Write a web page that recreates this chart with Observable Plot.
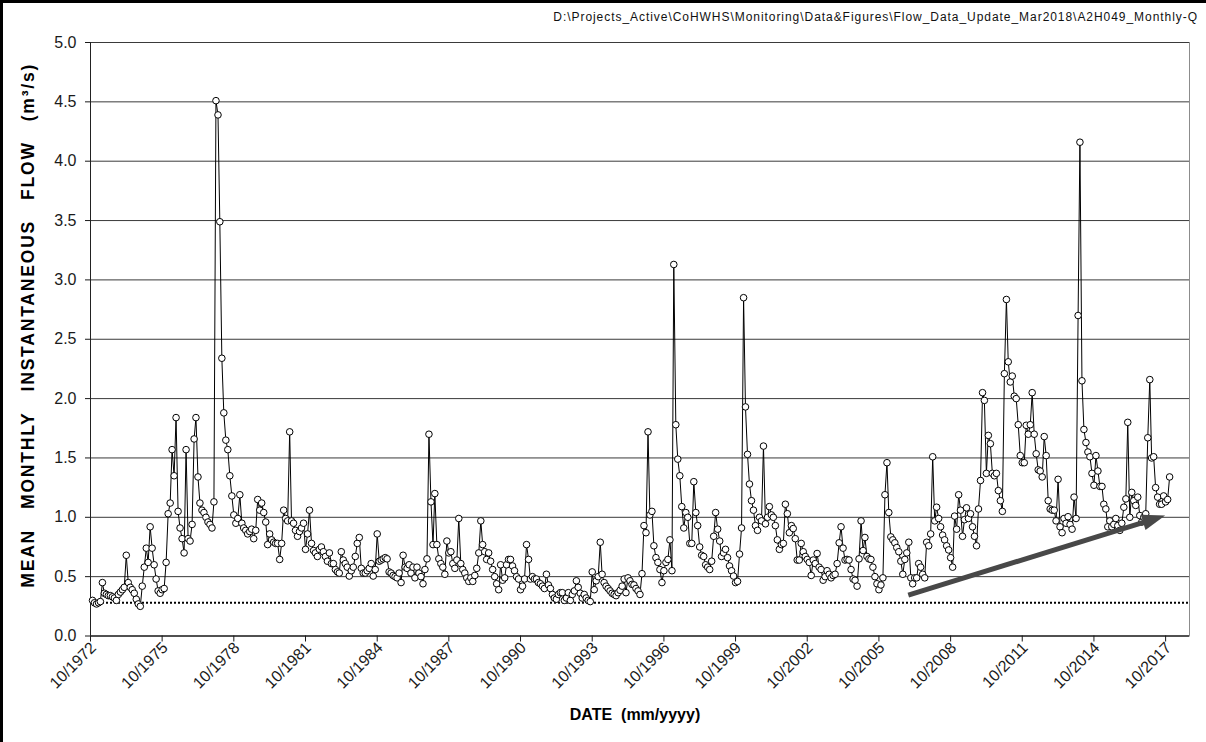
<!DOCTYPE html>
<html>
<head>
<meta charset="utf-8">
<script src="https://cdn.jsdelivr.net/npm/d3@7"></script>
<script src="https://cdn.jsdelivr.net/npm/@observablehq/plot@0.6"></script>
<style>
  html, body { margin: 0; padding: 0; background: #fff; }
  #chart { position: relative; width: 1206px; height: 742px; overflow: hidden;
           font-family: Arial, "Liberation Sans", sans-serif; }
  #chart::before { content: ""; position: absolute; left: 0; top: 0; right: -4px; bottom: -4px;
           border-left: 3px solid #000; border-top: 3px solid #000; pointer-events: none; }
  #src { position: absolute; right: 8px; top: 10px; font-size: 12px; letter-spacing: 0.95px; color: #111; white-space: nowrap; }
  #chart svg { position: absolute; left: 0; top: 0; }
</style>
</head>
<body>
<div id="chart">
  <div id="src">D:\Projects_Active\CoHWHS\Monitoring\Data&amp;Figures\Flow_Data_Update_Mar2018\A2H049_Monthly-Q</div>
</div>
<script>
// Mean monthly instantaneous flow (m³/s), station A2H049.
// One row per hydrological year (Oct–Sep); the record opens in November 1972.
const flow1970s = [
  0.30, 0.28, 0.27, 0.28, 0.29, 0.45, 0.36, 0.35, 0.34, 0.34, 0.33,
  0.32, 0.30, 0.35, 0.37, 0.39, 0.41, 0.68, 0.45, 0.41, 0.39, 0.36, 0.31,
  0.27, 0.25, 0.42, 0.58, 0.74, 0.62, 0.92, 0.74, 0.60, 0.48, 0.38, 0.36,
  0.39, 0.40, 0.62, 1.03, 1.12, 1.57, 1.35, 1.84, 1.05, 0.91, 0.82, 0.70,
  1.57, 0.82, 0.80, 0.94, 1.66, 1.84, 1.34, 1.12, 1.06, 1.04, 1.00, 0.96,
  0.94, 0.91, 1.13, 4.51, 4.39, 3.49, 2.34, 1.88, 1.65, 1.57, 1.35, 1.18,
  1.02, 0.95, 0.99, 1.19, 0.95, 0.91, 0.89, 0.86, 0.88, 0.90, 0.82, 0.89,
  1.15, 1.06, 1.12, 1.04, 0.96, 0.77, 0.86, 0.81, 0.79, 0.78, 0.78, 0.645
];
const flow1980s = [
  0.78, 1.06, 0.99, 0.97, 1.72, 0.97, 0.95, 0.89, 0.84, 0.88, 0.91, 0.95,
  0.73, 0.86, 1.06, 0.78, 0.72, 0.70, 0.67, 0.73, 0.75, 0.71, 0.67, 0.63,
  0.70, 0.61, 0.61, 0.56, 0.54, 0.53, 0.71, 0.64, 0.61, 0.58, 0.505, 0.55,
  0.58, 0.67, 0.78, 0.83, 0.57, 0.53, 0.53, 0.55, 0.57, 0.61, 0.505, 0.56,
  0.86, 0.63, 0.64, 0.65, 0.66, 0.65, 0.54, 0.53, 0.51, 0.50, 0.49, 0.53,
  0.45, 0.68, 0.58, 0.57, 0.60, 0.53, 0.58, 0.49, 0.58, 0.53, 0.50, 0.44,
  0.56, 0.65, 1.70, 1.13, 0.77, 1.20, 0.77, 0.65, 0.61, 0.58, 0.52, 0.80,
  0.70, 0.71, 0.61, 0.57, 0.64, 0.99, 0.61, 0.56, 0.53, 0.49, 0.46, 0.49,
  0.46, 0.51, 0.57, 0.70, 0.97, 0.77, 0.71, 0.645, 0.70, 0.63, 0.56, 0.50,
  0.44, 0.39, 0.60, 0.47, 0.49, 0.60, 0.645, 0.645, 0.59, 0.55, 0.50, 0.48
];
const flow1990s = [
  0.39, 0.42, 0.48, 0.77, 0.645, 0.48, 0.50, 0.48, 0.48, 0.45, 0.44, 0.42,
  0.40, 0.52, 0.43, 0.40, 0.35, 0.32, 0.31, 0.35, 0.365, 0.365, 0.30, 0.32,
  0.365, 0.30, 0.35, 0.38, 0.465, 0.41, 0.36, 0.32, 0.35, 0.32, 0.30, 0.29,
  0.54, 0.39, 0.465, 0.50, 0.79, 0.52, 0.45, 0.42, 0.40, 0.38, 0.36, 0.35,
  0.34, 0.365, 0.385, 0.42, 0.48, 0.365, 0.49, 0.465, 0.435, 0.43, 0.40, 0.38,
  0.35, 0.525, 0.93, 0.87, 1.72, 1.02, 1.05, 0.76, 0.66, 0.62, 0.56, 0.45,
  0.55, 0.62, 0.645, 0.81, 0.55, 3.13, 1.78, 1.49, 1.35, 1.09, 0.91, 1.04,
  1.00, 0.78, 0.78, 1.30, 1.04, 0.93, 0.75, 0.68, 0.67, 0.60, 0.58, 0.56,
  0.63, 0.84, 1.04, 0.90, 0.80, 0.67, 0.70, 0.73, 0.66, 0.59, 0.55, 0.505,
  0.45, 0.46, 0.69, 0.91, 2.85, 1.93, 1.53, 1.28, 1.14, 1.06, 0.93, 0.89
];
const flow2000s = [
  1.00, 0.97, 1.60, 0.945, 1.00, 1.09, 1.02, 1.00, 0.93, 0.81, 0.73, 0.77,
  0.78, 1.11, 1.03, 0.87, 0.93, 0.905, 0.82, 0.64, 0.64, 0.78, 0.71, 0.67,
  0.645, 0.62, 0.51, 0.64, 0.61, 0.695, 0.58, 0.56, 0.47, 0.50, 0.55, 0.52,
  0.49, 0.51, 0.52, 0.61, 0.785, 0.92, 0.74, 0.64, 0.645, 0.64, 0.56, 0.48,
  0.47, 0.42, 0.65, 0.97, 0.72, 0.83, 0.67, 0.65, 0.645, 0.58, 0.50, 0.44,
  0.39, 0.43, 0.49, 1.19, 1.46, 1.04, 0.835, 0.81, 0.785, 0.745, 0.71, 0.63,
  0.52, 0.645, 0.70, 0.79, 0.49, 0.44, 0.49, 0.49, 0.61, 0.58, 0.52, 0.49,
  0.79, 0.76, 0.86, 1.51, 0.97, 1.085, 0.99, 0.92, 0.85, 0.81, 0.76, 0.725,
  0.66, 0.58, 1.01, 0.90, 1.19, 1.06, 0.84, 0.98, 1.08, 0.99, 1.03, 0.92,
  0.84, 0.76, 1.07, 1.31, 2.05, 1.985, 1.37, 1.69, 1.62, 1.37, 1.35, 1.37
];
const flow2010s = [
  1.225, 1.14, 1.05, 2.21, 2.835, 2.31, 2.14, 2.19, 2.02, 2.00, 1.78, 1.52,
  1.46, 1.46, 1.775, 1.70, 1.78, 2.05, 1.70, 1.535, 1.40, 1.39, 1.34, 1.68,
  1.52, 1.14, 1.07, 1.06, 1.06, 0.97, 1.32, 0.92, 0.87, 0.99, 0.95, 1.005,
  0.94, 0.90, 1.17, 0.99, 2.70, 4.16, 2.15, 1.74, 1.63, 1.55, 1.51, 1.37,
  1.27, 1.52, 1.39, 1.26, 1.26, 1.11, 1.07, 0.92, 0.97, 0.92, 0.94, 0.99,
  0.93, 0.89, 0.95, 1.085, 1.155, 1.80, 1.00, 1.21, 1.14, 1.10, 1.17, 1.015,
  0.96, 1.00, 1.03, 1.67, 2.16, 1.50, 1.51, 1.25, 1.17, 1.11, 1.11, 1.18,
  1.13, 1.15, 1.34
];

const firstMonth = "11/1972";
const axisStart = "10/1972";
const axisEnd = "10/2018";
const xTickLabels = ["10/1972", "10/1975", "10/1978", "10/1981", "10/1984", "10/1987",
  "10/1990", "10/1993", "10/1996", "10/1999", "10/2002", "10/2005", "10/2008",
  "10/2011", "10/2014", "10/2017"];
const yTicks = [0, 0.5, 1.0, 1.5, 2.0, 2.5, 3.0, 3.5, 4.0, 4.5, 5.0];
const baseFlow = [0.28];
const trendFrom = ["01/2007", 0.34];
const trendTo = ["10/2017", 1.01];
const gap = "\u00A0\u00A0\u00A0";
const yLabel = ["MEAN", "MONTHLY", "INSTANTANEOUS", "FLOW", "(m³/s)"].join(gap);
const xLabel = "DATE\u00A0\u00A0(mm/yyyy)";

const parseMonth = d3.utcParse("%m/%Y");
const start = parseMonth(firstMonth);
const series = [...flow1970s, ...flow1980s, ...flow1990s, ...flow2000s, ...flow2010s]
  .map((flow, i) => ({ date: d3.utcMonth.offset(start, i), flow }));
const xTicks = xTickLabels.map(parseMonth);

const chart = Plot.plot({
  width: 1206,
  height: 742,
  marginLeft: 90,
  marginRight: 17,
  marginTop: 42,
  marginBottom: 106.5,
  style: { fontFamily: "Arial, 'Liberation Sans', sans-serif", color: "#1a1a1a", background: "transparent" },
  x: { type: "utc", domain: [parseMonth(axisStart), parseMonth(axisEnd)] },
  y: { domain: [0, 5] },
  marks: [
    Plot.frame({ stroke: "#8c8c8c" }),
    Plot.gridY(yTicks, { stroke: "#3a3a3a", strokeOpacity: 1, strokeWidth: 1 }),
    Plot.ruleY(baseFlow, { stroke: "#000", strokeWidth: 2, strokeDasharray: "2,2" }),
    Plot.ruleY([0], { stroke: "#222" }),
    Plot.ruleX([parseMonth(axisStart)], { stroke: "#222" }),
    Plot.axisY(yTicks, { tickFormat: d3.format(".1f"), tickSize: 5, tickPadding: 9, fontSize: 16, label: null }),
    // tick marks on their own, then the rotated date labels
    Plot.axisX(xTicks, { tickFormat: () => "", tickSize: 6, label: null }),
    Plot.axisX(xTicks, { tickFormat: d3.utcFormat("%m/%Y"), tickRotate: -45, tickSize: 0, tickPadding: 9, fontSize: 16, dx: 3, label: null }),
    Plot.line(series, { x: "date", y: "flow", stroke: "#000", strokeWidth: 1 }),
    Plot.dot(series, { x: "date", y: "flow", r: 3.3, fill: "#fff", stroke: "#000", strokeWidth: 1 }),
    Plot.text([yLabel], { frameAnchor: "left", textAnchor: "middle", dx: -62, dy: -14, rotate: -90, fontSize: 17.5, fontWeight: "bold", fill: "#000" }),
    Plot.text([xLabel], { frameAnchor: "bottom", dx: -5, dy: 84, fontSize: 16, fontWeight: "bold", fill: "#000" })
  ]
});

// Letter spacing for the vertical axis title.
d3.select(chart).selectAll("text").filter(function () { return this.textContent === yLabel; })
  .style("letter-spacing", "1.8px");

// Trend arrow: shaft plus filled head, placed through the chart's own scales.
const sx = chart.scale("x"), sy = chart.scale("y");
const p1 = [sx.apply(parseMonth(trendFrom[0])), sy.apply(trendFrom[1])];
const p2 = [sx.apply(parseMonth(trendTo[0])), sy.apply(trendTo[1])];
const dx = p2[0] - p1[0], dy = p2[1] - p1[1];
const len = Math.hypot(dx, dy), ux = dx / len, uy = dy / len, nx = -uy, ny = ux;
const headLen = 23, headHalf = 8;
const base = [p2[0] - ux * headLen, p2[1] - uy * headLen];
const g = d3.select(chart).append("g").attr("class", "trend");
g.append("line")
  .attr("x1", p1[0]).attr("y1", p1[1]).attr("x2", base[0] + ux * 2).attr("y2", base[1] + uy * 2)
  .attr("stroke", "#484848").attr("stroke-width", 5);
g.append("path")
  .attr("d", `M${p2[0]},${p2[1]}L${base[0] + nx * headHalf},${base[1] + ny * headHalf}L${base[0] - nx * headHalf},${base[1] - ny * headHalf}Z`)
  .attr("fill", "#484848");

document.getElementById("chart").appendChild(chart);
</script>
</body>
</html>
